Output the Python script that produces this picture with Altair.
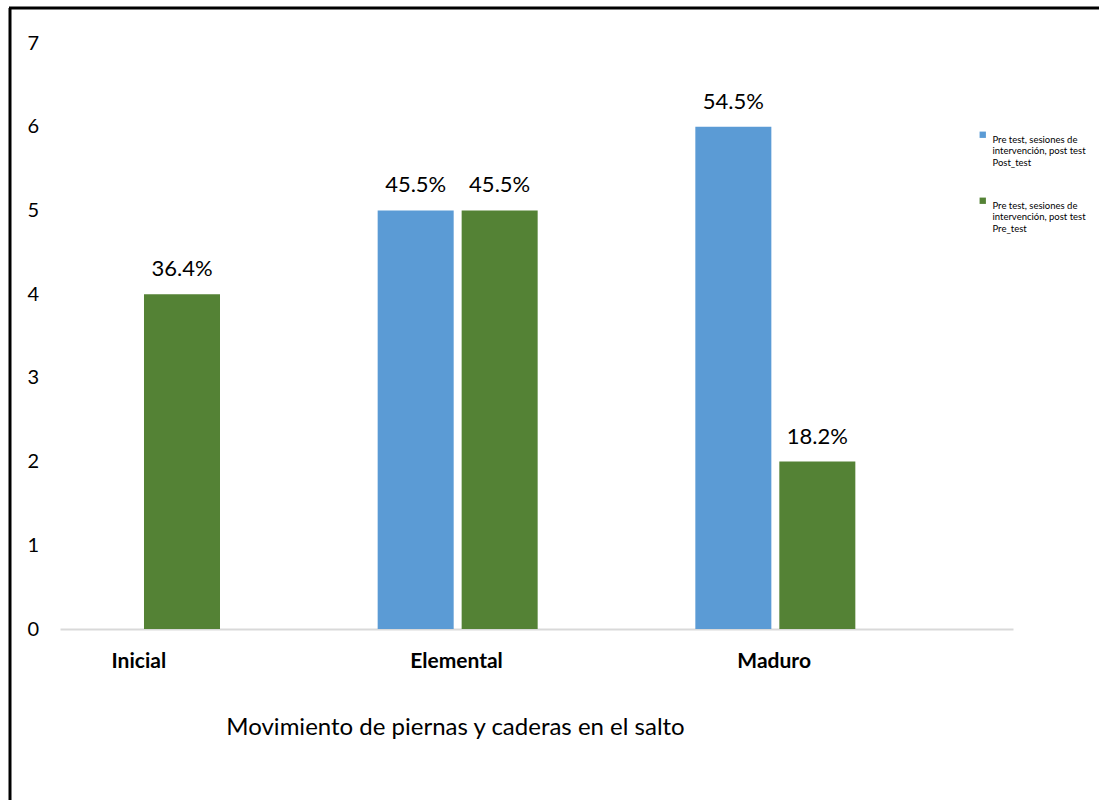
import altair as alt
import pandas as pd

categories = ["Inicial", "Elemental", "Maduro"]
series = ["Pre test, sesiones de|intervención, post test|Post_test",
          "Pre test, sesiones de|intervención, post test|Pre_test"]
post_values = [None, 5, 6]
pre_values = [4, 5, 2]
post_labels = ["", "45.5%", "54.5%"]
pre_labels = ["36.4%", "45.5%", "18.2%"]
colors = ["#5B9BD5", "#548235"]

rows = []
for c, v, l in zip(categories, post_values, post_labels):
    if v is not None:
        rows.append({"cat": c, "serie": series[0], "value": v, "label": l})
for c, v, l in zip(categories, pre_values, pre_labels):
    rows.append({"cat": c, "serie": series[1], "value": v, "label": l})
df = pd.DataFrame(rows)

FONT = "Lato"
W, H = 953, 586

x = alt.X("cat:N", sort=categories, scale=alt.Scale(paddingInner=0, paddingOuter=0),
          axis=alt.Axis(title="Movimiento de piernas y caderas en el salto", labelAngle=0,
                        labelOffset=-80, labelFontWeight="bold", labelFontSize=21,
                        labelPadding=21, ticks=False, domainColor="#d9d9d9", domainWidth=2,
                        titleFontSize=24, titleFontWeight="normal", titleX=395, titleY=98,
                        titleBaseline="middle", titleAnchor="middle"))
xo = alt.XOffset("serie:N", sort=series,
                 scale=alt.Scale(range=[0, 160], paddingInner=0.095, paddingOuter=0))
y = alt.Y("value:Q", scale=alt.Scale(domain=[0, 7]),
          axis=alt.Axis(title=None, values=list(range(8)), format="d", grid=False, ticks=False, domain=False,
                        labelAlign="left", labelPadding=33, labelFontSize=20, labelBaseline="middle"))

color = alt.Color("serie:N", sort=series, scale=alt.Scale(domain=series, range=colors),
                  legend=alt.Legend(title=None, orient="none", legendX=918, legendY=87,
                                    symbolType="square", symbolSize=40, labelFontSize=9.5,
                                    labelExpr="split(datum.label, '|')", rowPadding=28,
                                    labelLimit=200, labelBaseline="top", labelOffset=5))

bars = alt.Chart(df).mark_bar().encode(x=x, xOffset=xo, y=y, color=color)
texts = alt.Chart(df).mark_text(dy=-13, baseline="bottom", fontSize=22, font=FONT, color="#000").encode(
    x=alt.X("cat:N", sort=categories), xOffset=alt.XOffset("serie:N", sort=series),
    y="value:Q", text="label:N")

border_df = pd.DataFrame({"k": [0]})
left_border = alt.Chart(border_df).mark_rule(color="#000", strokeWidth=3, clip=False).encode(
    x=alt.value(-50), y=alt.value(-35), y2=alt.value(H + 200))
top_border = alt.Chart(border_df).mark_rule(color="#000", strokeWidth=3, clip=False).encode(
    x=alt.value(-51), x2=alt.value(W + 100), y=alt.value(-35))

chart = alt.layer(bars, texts, left_border, top_border).properties(
    width=W, height=H, autosize=alt.AutoSizeParams(type="none"),
    padding={"left": 60, "top": 43, "right": 86, "bottom": 171}
).configure(font=FONT).configure_view(stroke=None).configure_axis(labelFont=FONT, titleFont=FONT, labelColor="#000", titleColor="#000").configure_legend(labelFont=FONT, labelColor="#000")

chart.save("out.html", embed_options={"renderer": "svg", "actions": False})
